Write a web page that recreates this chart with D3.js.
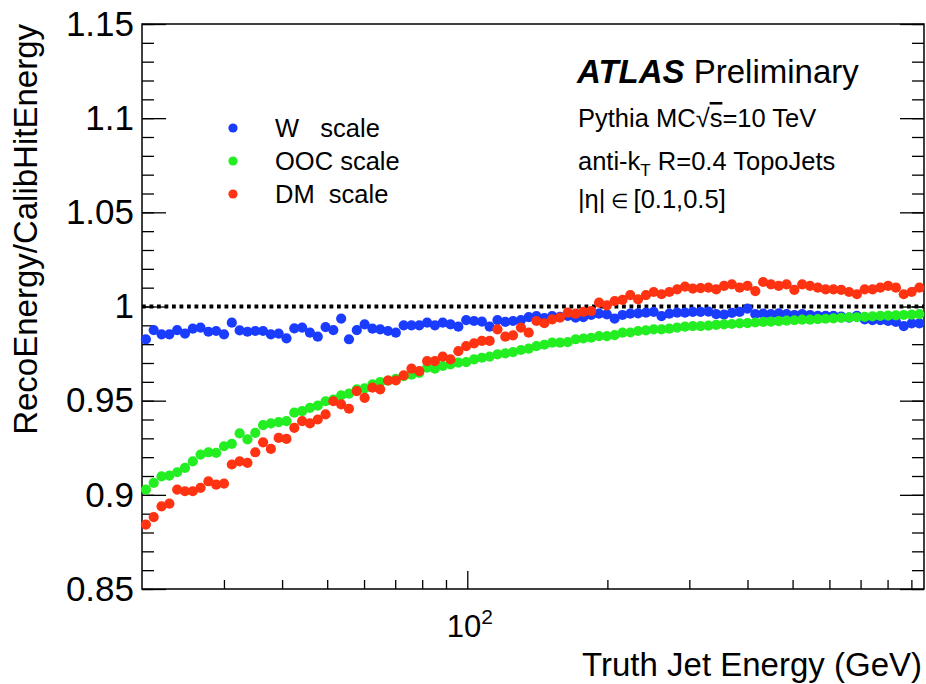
<!DOCTYPE html>
<html><head><meta charset="utf-8">
<script src="https://cdn.jsdelivr.net/npm/d3@7"></script>
<style>body{margin:0;background:#fff} svg text{font-family:"Liberation Sans",Arial,Helvetica,sans-serif}</style>
</head><body><svg id="c" width="926" height="684"></svg>
<script>
// ---- data ----
const energies = [
 20.39, 21.19, 22.03, 22.90, 23.80, 24.74, 25.71, 26.72, 27.78, 28.87,
 30.01, 31.19, 32.42, 33.70, 35.03, 36.41, 37.84, 39.33, 40.88, 42.49,
 44.17, 45.91, 47.72, 49.60, 51.55, 53.58, 55.69, 57.89, 60.17, 62.54,
 65.00, 67.56, 70.22, 72.99, 75.87, 78.86, 81.97, 85.20, 88.56, 92.05,
 95.68, 99.45, 103.4, 107.5, 111.7, 116.1, 120.7, 125.4, 130.4, 135.5,
 140.8, 146.4, 152.2, 158.2, 164.4, 170.9, 177.6, 184.6, 191.9, 199.5,
 207.3, 215.5, 224.0, 232.8, 242.0, 251.5, 261.4, 271.7, 282.4, 293.6,
 305.2, 317.2, 329.7, 342.7, 356.2, 370.2, 384.8, 400.0, 415.8, 432.2,
 449.2, 466.9, 485.3, 504.4, 524.3, 545.0, 566.5, 588.8, 612.0, 636.1,
 661.2, 687.3, 714.4, 742.5, 771.8, 802.2, 833.8, 866.7, 900.9, 936.4];

const wScale = [
 0.9826, 0.9875, 0.9852, 0.9852, 0.9875, 0.9856, 0.9882, 0.9888, 0.9866, 0.9870,
 0.9852, 0.9914, 0.9873, 0.9866, 0.9870, 0.9870, 0.9852, 0.9856, 0.9831, 0.9884,
 0.9888, 0.9861, 0.9840, 0.9891, 0.9875, 0.9936, 0.9826, 0.9875, 0.9905, 0.9882,
 0.9879, 0.9870, 0.9861, 0.9900, 0.9900, 0.9900, 0.9914, 0.9900, 0.9914, 0.9905,
 0.9893, 0.9928, 0.9923, 0.9920, 0.9893, 0.9928, 0.9918, 0.9923, 0.9928, 0.9944,
 0.9949, 0.9938, 0.9949, 0.9945, 0.9950, 0.9941, 0.9944, 0.9955, 0.9962, 0.9958,
 0.9936, 0.9955, 0.9962, 0.9964, 0.9967, 0.9971, 0.9949, 0.9962, 0.9967, 0.9967,
 0.9971, 0.9971, 0.9973, 0.9959, 0.9957, 0.9966, 0.9971, 0.9989, 0.9959, 0.9962,
 0.9959, 0.9964, 0.9959, 0.9955, 0.9959, 0.9955, 0.9950, 0.9950, 0.9950, 0.9946,
 0.9941, 0.9950, 0.9932, 0.9928, 0.9928, 0.9923, 0.9918, 0.9896, 0.9910, 0.9910];

const oocScale = [
 0.9028, 0.9063, 0.9098, 0.9102, 0.9120, 0.9143, 0.9178, 0.9214, 0.9226, 0.9223,
 0.9258, 0.9271, 0.9326, 0.9294, 0.9329, 0.9370, 0.9379, 0.9386, 0.9391, 0.9436,
 0.9444, 0.9462, 0.9474, 0.9497, 0.9506, 0.9528, 0.9537, 0.9560, 0.9565, 0.9586,
 0.9598, 0.9606, 0.9616, 0.9630, 0.9638, 0.9648, 0.9675, 0.9670, 0.9684, 0.9693,
 0.9702, 0.9705, 0.9719, 0.9728, 0.9734, 0.9746, 0.9751, 0.9758, 0.9769, 0.9776,
 0.9790, 0.9797, 0.9808, 0.9808, 0.9811, 0.9826, 0.9830, 0.9834, 0.9843, 0.9843,
 0.9848, 0.9861, 0.9862, 0.9870, 0.9873, 0.9879, 0.9879, 0.9882, 0.9888, 0.9893,
 0.9896, 0.9896, 0.9898, 0.9902, 0.9905, 0.9907, 0.9910, 0.9912, 0.9915, 0.9918,
 0.9920, 0.9922, 0.9925, 0.9927, 0.9930, 0.9930, 0.9933, 0.9935, 0.9937, 0.9940,
 0.9942, 0.9943, 0.9945, 0.9948, 0.9950, 0.9952, 0.9953, 0.9955, 0.9957, 0.9960];

const dmScale = [
 0.8842, 0.8882, 0.8939, 0.8953, 0.9028, 0.9019, 0.9019, 0.9037, 0.9072, 0.9054,
 0.9060, 0.9161, 0.9178, 0.9170, 0.9226, 0.9279, 0.9244, 0.9302, 0.9297, 0.9356,
 0.9391, 0.9379, 0.9400, 0.9427, 0.9497, 0.9480, 0.9457, 0.9551, 0.9515, 0.9569,
 0.9560, 0.9607, 0.9607, 0.9634, 0.9670, 0.9657, 0.9710, 0.9710, 0.9734, 0.9719,
 0.9763, 0.9790, 0.9804, 0.9817, 0.9817, 0.9879, 0.9840, 0.9847, 0.9888, 0.9861,
 0.9923, 0.9911, 0.9932, 0.9941, 0.9967, 0.9962, 0.9971, 0.9976, 1.0021, 1.0006,
 1.0029, 1.0035, 1.0060, 1.0038, 1.0060, 1.0077, 1.0065, 1.0077, 1.0091, 1.0106,
 1.0095, 1.0098, 1.0100, 1.0091, 1.0109, 1.0118, 1.0100, 1.0109, 1.0082, 1.0130,
 1.0118, 1.0109, 1.0118, 1.0088, 1.0118, 1.0109, 1.0100, 1.0091, 1.0091, 1.0088,
 1.0077, 1.0065, 1.0091, 1.0091, 1.0100, 1.0109, 1.0100, 1.0065, 1.0077, 1.0100];

const seriesNames = ["W   scale", "OOC scale", "DM  scale"];
const seriesColors = ["#1a3cff", "#22ee22", "#ff3311"];
const yMajorTicks = [0.85, 0.9, 0.95, 1, 1.05, 1.1, 1.15];
const yTickLabels = ["0.85", "0.9", "0.95", "1", "1.05", "1.1", "1.15"];
const xMajorTicks = [100];
const xMinorTicks = [30, 40, 50, 60, 70, 80, 90, 200, 300, 400, 500, 600, 700, 800, 900];
const xDomain = [20, 958];
const yDomain = [0.85, 1.15];
const referenceLine = 1;

// ---- layout ----
const M = {l: 142, r: 924, t: 24, b: 589};
const FONT = '"Liberation Sans",Arial,Helvetica,sans-serif';
const svg = d3.select("#c");
const x = d3.scaleLog().domain(xDomain).range([M.l, M.r]);
const y = d3.scaleLinear().domain(yDomain).range([M.b, M.t]);
const yMinor = y.ticks(30);

function styleAxis(g){
  g.select(".domain").remove();
  g.attr("font-family", FONT);
  g.selectAll(".tick line").attr("stroke", "#000").attr("stroke-width", 1.3);
  g.selectAll(".tick text").attr("fill", "#000");
}

// left axis (ticks inward)
svg.append("g").attr("transform", `translate(${M.l},0)`)
  .call(d3.axisLeft(y).tickValues(yMinor).tickSize(-12).tickFormat(""))
  .call(styleAxis);
svg.append("g").attr("transform", `translate(${M.l},0)`)
  .call(d3.axisLeft(y).tickValues(yMajorTicks).tickSize(-24).tickPadding(8)
        .tickFormat((d, i) => yTickLabels[i]))
  .call(styleAxis).attr("font-size", 35);
// right axis (ticks inward)
svg.append("g").attr("transform", `translate(${M.r},0)`)
  .call(d3.axisLeft(y).tickValues(yMinor).tickSize(12).tickFormat(""))
  .call(styleAxis);
svg.append("g").attr("transform", `translate(${M.r},0)`)
  .call(d3.axisLeft(y).tickValues(yMajorTicks).tickSize(24).tickFormat(""))
  .call(styleAxis);
// bottom axis
svg.append("g").attr("transform", `translate(0,${M.b})`)
  .call(d3.axisBottom(x).tickValues(xMinorTicks).tickSize(-9).tickFormat(""))
  .call(styleAxis);
const xMaj = svg.append("g").attr("transform", `translate(0,${M.b})`)
  .call(d3.axisBottom(x).tickValues(xMajorTicks).tickSize(-18).tickPadding(14).tickFormat(""))
  .call(styleAxis);
xMaj.selectAll(".tick text").each(function(){
  const t = d3.select(this).attr("font-size", 31).attr("dy", "1.1em").attr("x", 2);
  t.append("tspan").text("10");
  t.append("tspan").attr("font-size", 21).attr("dy", -13).text("2");
});

// frame
svg.append("rect").attr("x", M.l).attr("y", M.t).attr("width", M.r - M.l).attr("height", M.b - M.t)
  .attr("fill", "none").attr("stroke", "#000").attr("stroke-width", 1.5);

// reference line at 1
svg.append("line").attr("x1", M.l).attr("x2", M.r).attr("y1", y(referenceLine)).attr("y2", y(referenceLine))
  .attr("stroke", "#000").attr("stroke-width", 4).attr("stroke-dasharray", "3.8,3.7");

// series
const allSeries = [wScale, oocScale, dmScale];
const edges = energies.map((e, i) => {
  const prev = i > 0 ? energies[i - 1] : e * e / energies[i + 1];
  const next = i < energies.length - 1 ? energies[i + 1] : e * e / energies[i - 1];
  return [Math.sqrt(prev * e), Math.sqrt(e * next)];
});
allSeries.forEach((vals, s) => {
  const g = svg.append("g");
  const pts = vals.map((v, i) => ({e: energies[i], v, lo: edges[i][0], hi: edges[i][1]}));
  g.selectAll("line.eb").data(pts).join("line").attr("class", "eb")
    .attr("x1", d => x(d.lo)).attr("x2", d => x(d.hi))
    .attr("y1", d => y(d.v)).attr("y2", d => y(d.v))
    .attr("stroke", "#000").attr("stroke-width", 1);
  g.selectAll("circle").data(pts).join("circle")
    .attr("cx", d => x(d.e)).attr("cy", d => y(d.v)).attr("r", 5.1)
    .attr("fill", seriesColors[s]);
});

// axis titles
svg.append("text").attr("transform", `translate(37,${M.t}) rotate(-90)`)
  .attr("text-anchor", "end").attr("font-size", 33).text("RecoEnergy/CalibHitEnergy");
svg.append("text").attr("x", 922).attr("y", 676).attr("text-anchor", "end")
  .attr("font-size", 33).text("Truth Jet Energy (GeV)");

// legend
const legY = [128, 161, 194];
seriesNames.forEach((n, i) => {
  svg.append("circle").attr("cx", 233).attr("cy", legY[i]).attr("r", 4.6).attr("fill", seriesColors[i]);
  svg.append("text").attr("x", 275).attr("y", legY[i] + 9).attr("font-size", 25.5)
    .style("white-space", "pre").text(n);
});

// ATLAS label
const t1 = svg.append("text").attr("x", 577).attr("y", 83).attr("font-size", 33);
t1.append("tspan").attr("font-weight", "bold").attr("font-style", "italic").text("ATLAS");
t1.append("tspan").text(" Preliminary");
const t2 = svg.append("text").attr("x", 578).attr("y", 127).attr("font-size", 25.5);
t2.append("tspan").text("Pythia MC");
t2.append("tspan").text("\u221A");
t2.append("tspan").attr("text-decoration", "overline").text("s");
t2.append("tspan").text("=10 TeV");
const t3 = svg.append("text").attr("x", 578).attr("y", 170).attr("font-size", 25.5);
t3.append("tspan").text("anti-k");
t3.append("tspan").attr("font-size", 17).attr("dy", 6).text("T");
t3.append("tspan").attr("dy", -6).text(" R=0.4 TopoJets");
const t4 = svg.append("text").attr("x", 578).attr("y", 208).attr("font-size", 25.5);
t4.append("tspan").text("|\u03B7|");
t4.append("tspan").attr("font-size", 20).text(" \u2208 ");
t4.append("tspan").text("[0.1,0.5]");
</script></body></html>
